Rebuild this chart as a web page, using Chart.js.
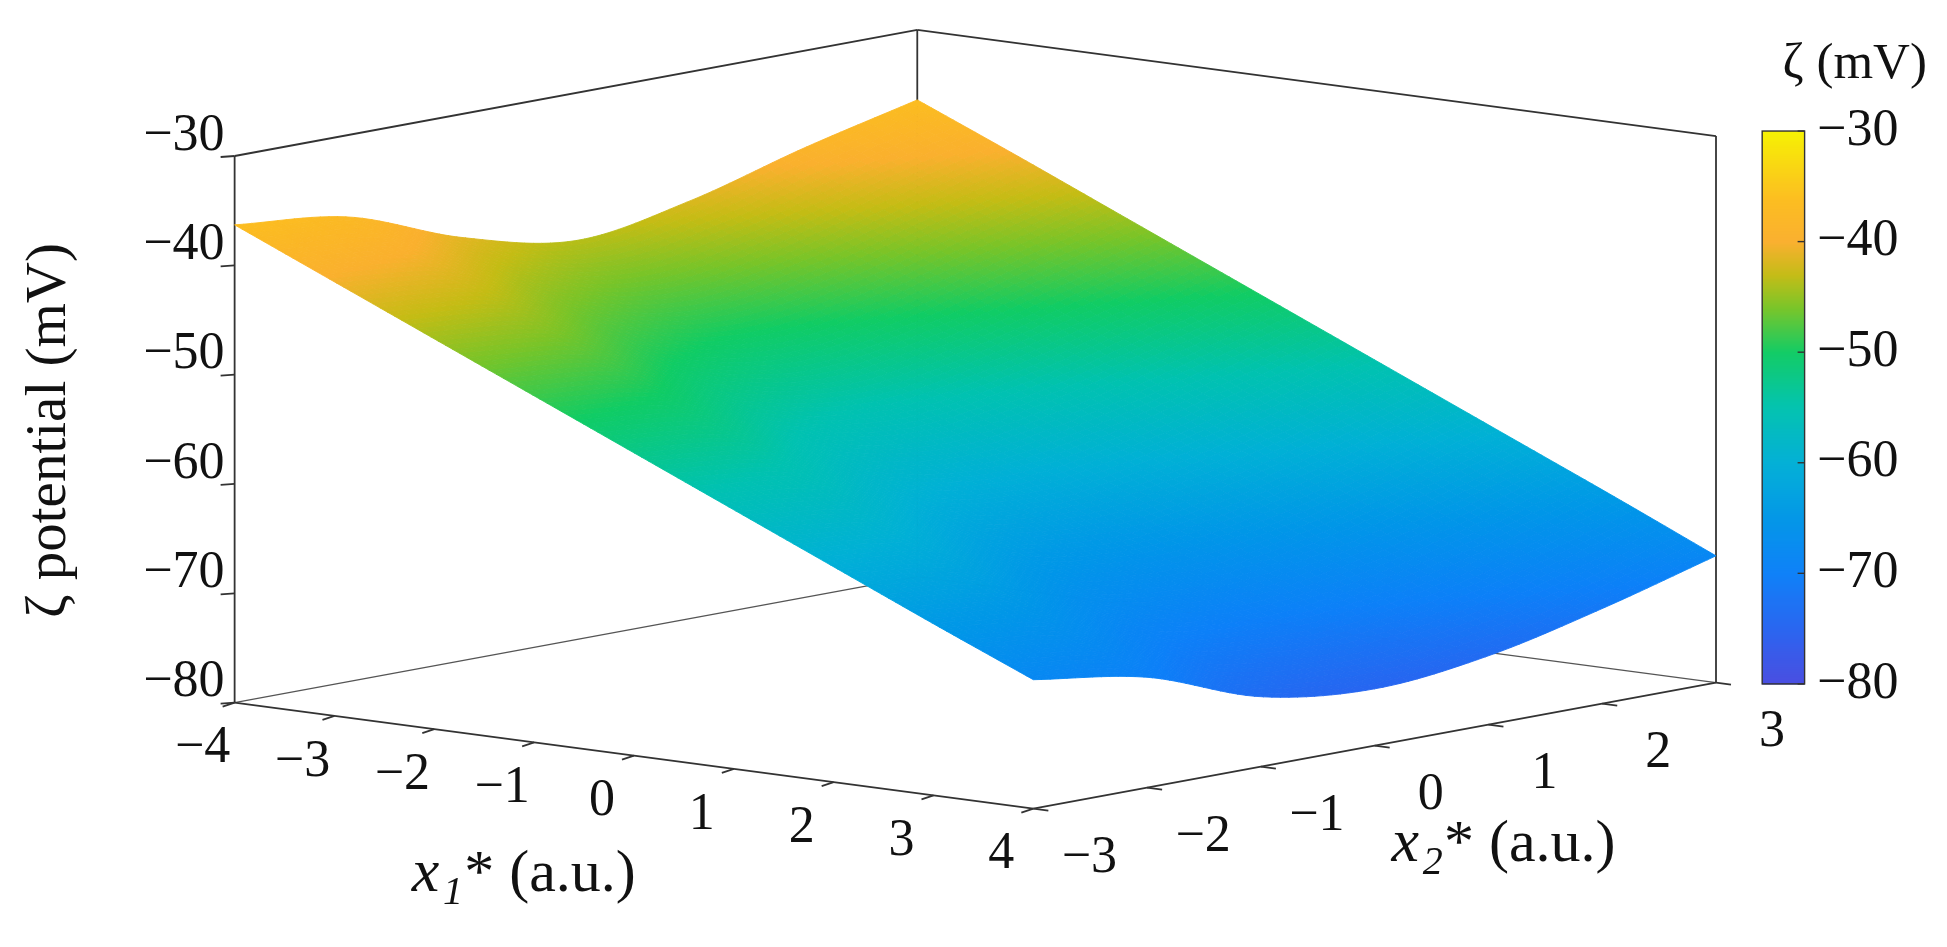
<!DOCTYPE html>
<html><head><meta charset="utf-8">
<script src="https://cdn.jsdelivr.net/npm/chart.js@4"></script>
<style>html,body{margin:0;padding:0;background:#fff;overflow:hidden}#w{width:1947px;height:947px}</style>
</head><body><div id="w"><canvas id="c"></canvas></div>
<script>
const x1Values = [-4,-3,-2,-1,0,1,2,3,4];
const x2Values = [-3,-2,-1,0,1,2,3];
const zetaGrid = [
 [-36.3,-37.5,-41.3,-43.5,-41.8,-38.9,-36.4],
 [-40.3,-41.6,-45.4,-47.4,-45.8,-43.0,-40.3],
 [-44.3,-45.6,-49.4,-51.3,-49.8,-47.0,-44.3],
 [-48.3,-49.7,-53.5,-55.2,-53.7,-51.1,-48.3],
 [-52.3,-53.7,-57.5,-59.2,-57.7,-55.1,-52.3],
 [-56.3,-57.8,-61.6,-63.1,-61.7,-59.2,-56.3],
 [-60.3,-61.8,-65.6,-67.0,-65.7,-63.2,-60.3],
 [-64.3,-65.9,-69.6,-70.9,-69.7,-67.3,-64.3],
 [-68.2,-69.9,-73.6,-74.8,-73.7,-71.3,-68.4]
];
const zTicks = [-30,-40,-50,-60,-70,-80];
const x1Ticks = [-4,-3,-2,-1,0,1,2,3,4];
const x2Ticks = [-3,-2,-1,0,1,2,3];
const cbarTicks = [-30,-40,-50,-60,-70,-80];

const S = 1.248;
const cmap = [[-80,[72,76,226]],[-75,[40,100,240]],[-70,[12,128,248]],[-65,[0,150,232]],[-60,[0,176,214]],[-55,[0,194,176]],[-50,[16,204,100]],[-46,[120,196,40]],[-43,[196,188,20]],[-40,[250,176,46]],[-36,[252,190,30]],[-30,[246,242,0]]];
function color(z){
  if(z<=cmap[0][0]) return 'rgb('+cmap[0][1]+')';
  for(let i=1;i<cmap.length;i++){ if(z<=cmap[i][0]){const a=cmap[i-1],b=cmap[i],t=(z-a[0])/(b[0]-a[0]);
    return 'rgb('+a[1].map((v,k)=>Math.round(v+(b[1][k]-v)*t)).join(',')+')';}}
  return 'rgb('+cmap[cmap.length-1][1]+')';
}
function proj(x1,x2,z){
  const u=(x1+4)/8, v=(x2+3)/6;
  return {x:188+u*640+v*547, y:563+u*85-v*101-(z+80)*8.76};
}
function cr(p0,p1,p2,p3,t){return 0.5*((2*p1)+(-p0+p2)*t+(2*p0-5*p1+4*p2-p3)*t*t+(-p0+3*p1-3*p2+p3)*t*t*t);}
function g0(i,j){return zetaGrid[i][j];}
function g1(i,j){ // linear extension beyond the grid edges
  if(j<0) return 2*g1(i,0)-g1(i,1);
  if(j>6) return 2*g1(i,6)-g1(i,5);
  if(i<0) return 2*g0(0,j)-g0(1,j);
  if(i>8) return 2*g0(8,j)-g0(7,j);
  return g0(i,j);
}
function sample(a,b){
  const i=Math.min(7,Math.floor(a)), j=Math.min(5,Math.floor(b)), ta=a-i, tb=b-j;
  const rows=[-1,0,1,2].map(di=>cr(g1(i+di,j-1),g1(i+di,j),g1(i+di,j+1),g1(i+di,j+2),tb));
  return cr(rows[0],rows[1],rows[2],rows[3],ta);
}
const pts=[];x1Values.forEach((a,i)=>x2Values.forEach((b,j)=>pts.push(proj(a,b,zetaGrid[i][j]))));
const FONT='"Liberation Serif","DejaVu Serif",serif';
const plugin={id:'surf',afterDatasetsDraw(chart){
  const ctx=chart.ctx,sx=chart.scales.x,sy=chart.scales.y;
  const P=(x1,x2,z)=>{const p=proj(x1,x2,z);return [sx.getPixelForValue(p.x),sy.getPixelForValue(p.y)];};
  const Q=(x,y)=>[x*S,y*S];
  const F=(px,st)=>(st||'')+' '+Math.round(px*S)+'px '+FONT;
  const line=(a,b,w,c)=>{ctx.beginPath();ctx.moveTo(...a);ctx.lineTo(...b);ctx.lineWidth=w||1.8;ctx.strokeStyle=c||'#333';ctx.stroke();};
  const txt=(s,x,y)=>ctx.fillText(s,x*S,y*S);
  ctx.save();
  line(P(-4,-3,-80),P(-4,3,-80),1.2,'#555');line(P(-4,3,-80),P(4,3,-80),1.2,'#555');
  line(P(-4,3,-80),P(-4,3,-30));line(P(-4,-3,-80),P(-4,-3,-30));line(P(4,3,-80),P(4,3,-30));
  line(P(-4,-3,-30),P(-4,3,-30));line(P(-4,3,-30),P(4,3,-30));
  const NA=110,NB=80,Z=[];
  for(let i=0;i<=NA;i++){Z.push([]);for(let j=0;j<=NB;j++)Z[i].push(sample(i/NA*8,j/NB*6));}
  const X1=i=>-4+8*i/NA,X2=j=>-3+6*j/NB;
  for(let i=0;i<NA;i++)for(let j=NB-1;j>=0;j--){
    const zc=(Z[i][j]+Z[i+1][j]+Z[i][j+1]+Z[i+1][j+1])/4;
    ctx.beginPath();ctx.moveTo(...P(X1(i),X2(j),Z[i][j]));ctx.lineTo(...P(X1(i+1),X2(j),Z[i+1][j]));
    ctx.lineTo(...P(X1(i+1),X2(j+1),Z[i+1][j+1]));ctx.lineTo(...P(X1(i),X2(j+1),Z[i][j+1]));ctx.closePath();
    const c=color(zc);ctx.fillStyle=c;ctx.strokeStyle=c;ctx.lineWidth=0.9;ctx.fill();ctx.stroke();
  }
  line(P(-4,-3,-80),P(4,-3,-80));line(P(4,-3,-80),P(4,3,-80));
  ctx.fillStyle='#111';ctx.font=F(42);
  zTicks.forEach(z=>{const p=P(-4,-3,z);line(p,[p[0]-14,p[1]+1]);ctx.textAlign='right';ctx.textBaseline='middle';ctx.fillText('\u2212'+Math.abs(z),p[0]-10,p[1]-20);});
  x1Ticks.forEach(t=>{const p=P(t,-3,-80);line(p,[p[0]-12,p[1]+4]);ctx.textAlign='center';ctx.textBaseline='middle';ctx.fillText((t<0?'\u2212':'')+Math.abs(t),p[0]-32,p[1]+46);});
  x2Ticks.forEach(t=>{const p=P(4,t,-80);line(p,[p[0]+15,p[1]+2]);ctx.textAlign='center';ctx.textBaseline='middle';ctx.fillText((t<0?'\u2212':'')+Math.abs(t),p[0]+56,p[1]+50);});
  ctx.save();ctx.translate(...Q(40,345));ctx.rotate(-Math.PI/2);ctx.textAlign='center';ctx.textBaseline='middle';ctx.font=F(46);ctx.fillText('\u03B6 potential (mV)',0,0);ctx.restore();
  ctx.textAlign='left';ctx.textBaseline='alphabetic';
  ctx.font=F(50,'italic');txt('x',330,714);ctx.font=F(32,'italic');txt('1',355,724);
  ctx.font=F(48);txt('* (a.u.)',372,714);
  ctx.font=F(50,'italic');txt('x',1115,690);ctx.font=F(32,'italic');txt('2',1140,700);
  ctx.font=F(48);txt('* (a.u.)',1157,690);
  const cx0=1412*S,cx1=1446*S,cy0=105*S,cy1=548*S;
  for(let y=cy0;y<cy1;y++){ctx.fillStyle=color(-30-(y-cy0)/(cy1-cy0)*50);ctx.fillRect(cx0,y,cx1-cx0,1.5);}
  ctx.strokeStyle='#333';ctx.lineWidth=1.4;ctx.strokeRect(cx0,cy0,cx1-cx0,cy1-cy0);
  ctx.fillStyle='#111';ctx.font=F(42);ctx.textAlign='left';ctx.textBaseline='middle';
  cbarTicks.forEach(t=>{const y=cy0+(-30-t)/50*(cy1-cy0);line([cx1,y],[cx1-7,y],1.4);ctx.fillText('\u2212'+Math.abs(t),1456*S,y);});
  ctx.font=F(41);ctx.textAlign='right';txt('\u03B6 (mV)',1544,52);
  ctx.restore();
}};
new Chart(document.getElementById('c'),{type:'scatter',
 data:{datasets:[{data:pts,pointRadius:0,showLine:false}]},
 options:{responsive:true,maintainAspectRatio:false,animation:false,layout:{padding:0},
  plugins:{legend:{display:false},tooltip:{enabled:false}},
  scales:{x:{type:'linear',min:0,max:1947/S,display:false},y:{type:'linear',min:0,max:947/S,reverse:true,display:false}}},
 plugins:[plugin]});
</script></body></html>
